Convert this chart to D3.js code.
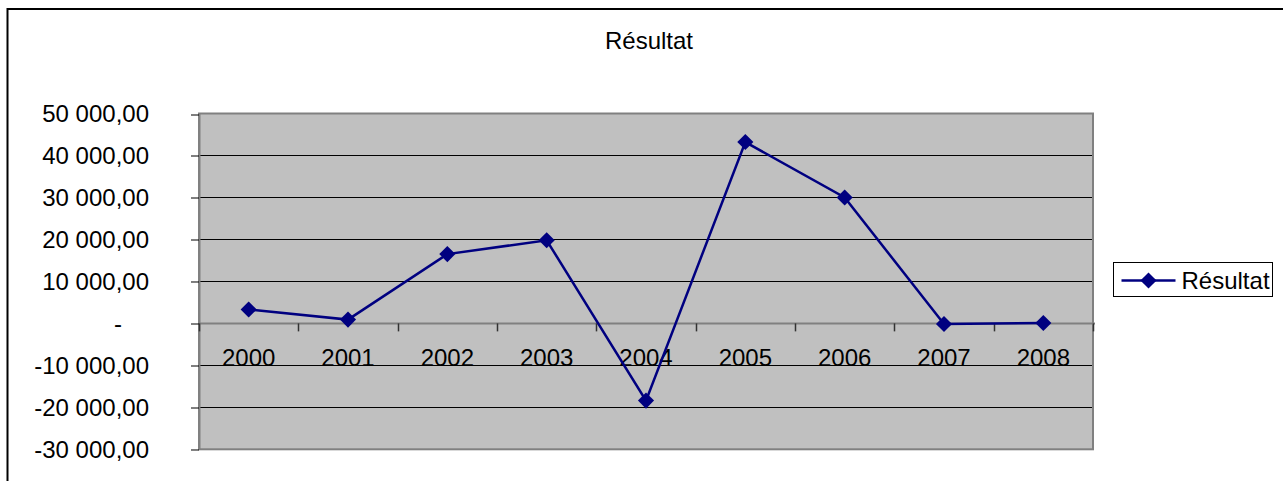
<!DOCTYPE html>
<html>
<head>
<meta charset="utf-8">
<script src="https://cdn.jsdelivr.net/npm/d3@7"></script>
<style>
  body { margin: 0; background: #fff; }
  svg { display: block; font-family: "Liberation Sans", Arial, sans-serif; }
</style>
</head>
<body>
<div id="chart"></div>
<script>
const years = ['2000', '2001', '2002', '2003', '2004', '2005', '2006', '2007', '2008'];
const resultat = [3300, 900, 16500, 19800, -18400, 43200, 30000, -150, 100];
const yTicks = [-30000, -20000, -10000, 0, 10000, 20000, 30000, 40000, 50000];
const seriesName = 'Résultat';
const chartTitle = 'Résultat';

const width = 1283, height = 481;
const plot = { left: 199, right: 1093, top: 113.5, bottom: 449.3 };
const navy = '#000080';
const fontSize = 24;

const fr = d3.formatLocale({ decimal: ',', thousands: ' ', grouping: [3], currency: ['', ''], minus: '-' });
const fmt = fr.format(',.2f');

const svg = d3.select('#chart')
  .append('svg')
  .attr('width', width)
  .attr('height', height)
  .attr('viewBox', `0 0 ${width} ${height}`);

// chart area border (runs off the right and bottom edges)
svg.append('rect')
  .attr('x', 7.5).attr('y', 9)
  .attr('width', width + 10).attr('height', height + 10)
  .attr('fill', '#fff')
  .attr('stroke', '#000')
  .attr('stroke-width', 2);

const x = d3.scaleBand().domain(years).range([plot.left, plot.right]).padding(0);
const y = d3.scaleLinear().domain([-30000, 50000]).range([plot.bottom, plot.top]);
const crisp = v => Math.round(v) + 0.5;

// plot area
svg.append('rect')
  .attr('x', plot.left).attr('y', plot.top)
  .attr('width', plot.right - plot.left).attr('height', plot.bottom - plot.top)
  .attr('fill', '#c0c0c0');

// gridlines
svg.append('g')
  .selectAll('line')
  .data(yTicks.filter(d => d !== 0 && d !== 50000 && d !== -30000))
  .join('line')
  .attr('x1', plot.left).attr('x2', plot.right)
  .attr('y1', d => crisp(y(d))).attr('y2', d => crisp(y(d)))
  .attr('stroke', '#000')
  .attr('stroke-width', 1);

svg.append('rect')
  .attr('x', plot.left).attr('y', plot.top)
  .attr('width', plot.right - plot.left).attr('height', plot.bottom - plot.top)
  .attr('fill', 'none')
  .attr('stroke', '#808080')
  .attr('stroke-width', 2);

// y axis
const yAxis = d3.axisLeft(y)
  .tickValues(yTicks)
  .tickSize(0)
  .tickPadding(50)
  .tickFormat(d => d === 0 ? '-' : fmt(d));

const gy = svg.append('g')
  .attr('transform', `translate(${plot.left},0)`)
  .call(yAxis);
gy.select('.domain').attr('stroke', '#808080').attr('stroke-width', 2);
gy.selectAll('.tick')
  .append('line')
  .attr('x1', -8).attr('x2', 0)
  .attr('y1', d => crisp(y(d)) - y(d)).attr('y2', d => crisp(y(d)) - y(d))
  .attr('stroke', '#000');
gy.selectAll('.tick text')
  .attr('font-size', fontSize)
  .attr('font-family', '"Liberation Sans", Arial, sans-serif')
  .attr('fill', '#000')
  .attr('dy', '0.34em')
  .attr('dx', d => d === 0 ? -27 : 0);

// x axis at zero
const xAxis = d3.axisBottom(x).tickSize(0).tickPadding(0).tickFormat('');
const gx = svg.append('g')
  .attr('transform', `translate(0,${y(0)})`)
  .call(xAxis);
gx.select('.domain').remove();
gx.append('line')
  .attr('x1', plot.left).attr('x2', plot.right + 2)
  .attr('stroke', '#808080').attr('stroke-width', 2);
gx.selectAll('.sep')
  .data(years.concat(['end']))
  .join('line')
  .attr('class', 'sep')
  .attr('x1', (d, i) => Math.round(plot.left + i * x.bandwidth()) + 0.5)
  .attr('x2', (d, i) => Math.round(plot.left + i * x.bandwidth()) + 0.5)
  .attr('y1', 0).attr('y2', 8)
  .attr('stroke', '#333').attr('stroke-width', 1.5);

svg.append('g')
  .selectAll('text')
  .data(years)
  .join('text')
  .attr('x', d => x(d) + x.bandwidth() / 2)
  .attr('y', y(0) + 43)
  .attr('text-anchor', 'middle')
  .attr('font-size', fontSize)
  .text(d => d);

// series
const pts = years.map((yr, i) => ({ yr, v: resultat[i] }));
const line = d3.line()
  .x(d => x(d.yr) + x.bandwidth() / 2)
  .y(d => y(d.v));

svg.append('path')
  .datum(pts)
  .attr('d', line)
  .attr('fill', 'none')
  .attr('stroke', navy)
  .attr('stroke-width', 2.5);

const diamond = d3.symbol().type(d3.symbolSquare).size(130);
svg.append('g')
  .selectAll('path')
  .data(pts)
  .join('path')
  .attr('transform', d => `translate(${x(d.yr) + x.bandwidth() / 2},${y(d.v)}) rotate(45)`)
  .attr('d', diamond)
  .attr('fill', navy);

// title
svg.append('text')
  .attr('x', 649)
  .attr('y', 48.5)
  .attr('text-anchor', 'middle')
  .attr('font-size', fontSize)
  .text(chartTitle);

// legend
const lg = svg.append('g').attr('transform', 'translate(1113.5,262.5)');
lg.append('rect')
  .attr('width', 159).attr('height', 34)
  .attr('fill', '#fff').attr('stroke', '#000').attr('stroke-width', 1);
lg.append('line')
  .attr('x1', 8).attr('x2', 62).attr('y1', 18).attr('y2', 18)
  .attr('stroke', navy).attr('stroke-width', 2.5);
lg.append('path')
  .attr('transform', 'translate(35,18) rotate(45)')
  .attr('d', diamond)
  .attr('fill', navy);
lg.append('text')
  .attr('x', 68).attr('y', 26)
  .attr('font-size', fontSize)
  .text(seriesName);
</script>
</body>
</html>
